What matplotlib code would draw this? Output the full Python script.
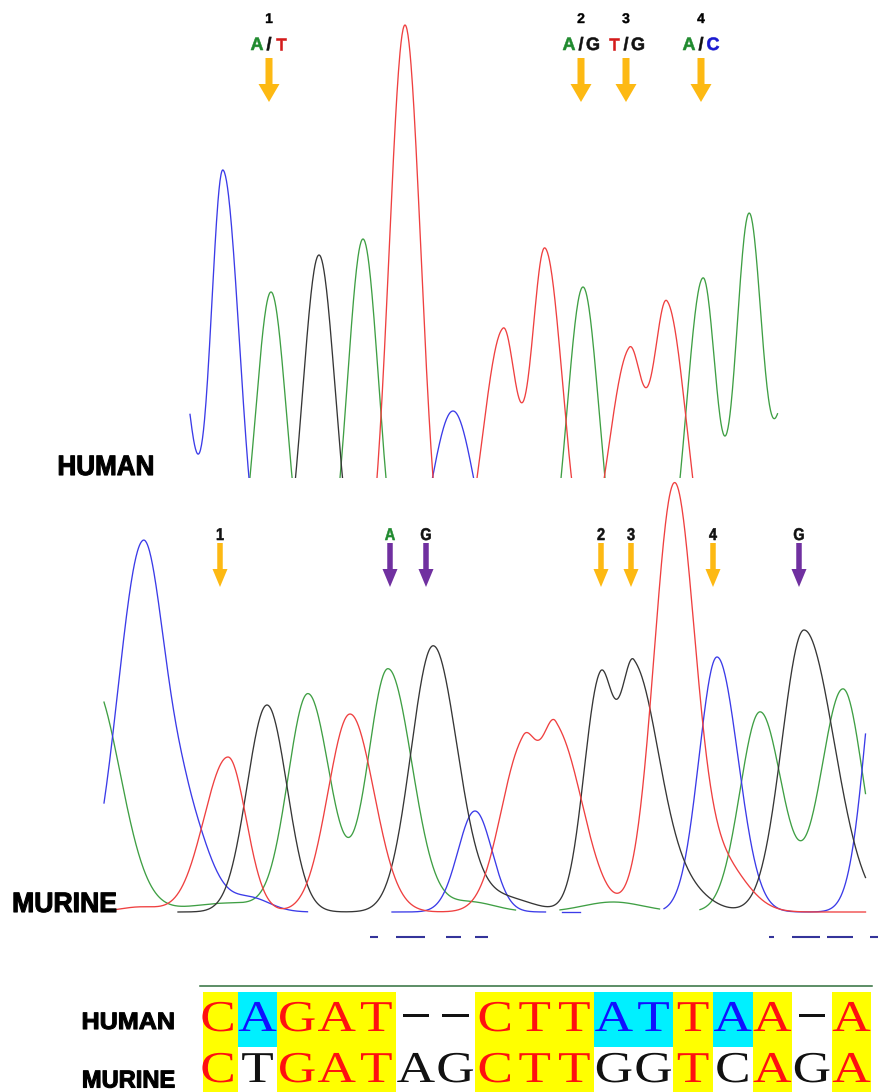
import numpy as np
import matplotlib
matplotlib.use("Agg")
import matplotlib.pyplot as plt
from matplotlib.patches import Rectangle
from matplotlib.patheffects import AbstractPathEffect
from matplotlib.transforms import Affine2D

# trace colours per base (ABI style)
base_colors = {"A": "#3f9f44", "C": "#3b3be8", "G": "#363636", "T": "#ef4040"}

# chromatogram peaks: (position px, height px, left width, right width)
human_A = [(271, 308, 15.5, 15.5), (363, 361, 15.6, 15.6), (583, 313, 16, 16),
           (703, 321, 16.5, 13.5), (749, 383, 13.5, 13.5), (790, 216, 14, 14)]
human_C = [(175, 273, 16, 16), (223, 427, 12, 16.4), (453, 189, 22, 22)]
human_G = [(319, 345, 16.3, 16.3)]
human_T = [(405, 575, 15.9, 15.9), (503, 268, 20.7, 14), (545, 349, 14, 17.9),
           (629, 245, 20.8, 14), (667, 293, 14, 19.4)]
human_span = (190, 778)
human_base = 600
human_floor = 478

murine_A = [(92, 230, 20, 28), (230, 9, 40, 40), (308, 217, 20, 22), (388, 243, 20, 24),
            (470, 10, 25, 25), (613, 10, 30, 30), (760, 200, 20, 22), (843, 223, 22, 20)]
murine_C = [(143, 368, 25, 22), (188, 85, 18, 22), (250, 14, 20, 20), (475, 101, 17, 17),
            (717, 255, 18, 21), (885, 320, 18, 18)]
murine_G = [(267, 207, 20, 20), (433, 265, 22, 24), (500, 15, 30, 30), (600, 230, 16, 13.5),
            (634, 238, 13.5, 24), (680, 25, 25, 25), (804, 282, 22, 30)]
murine_T = [(140, 5, 20, 20), (228, 155, 24, 18), (350, 198, 22, 24), (523, 165, 22, 14),
            (556, 180, 14, 26), (674, 420, 20, 20), (720, 50, 25, 25)]
murine_spans = {"A": [(104, 516), (560, 660), (700, 866)],
                "C": [(104, 308), (392, 546), (562, 580), (664, 866)],
                "G": [(178, 866)],
                "T": [(106, 866)]}
murine_base = 912

# stray dashes under the murine trace
dash_segments = [(370, 378), (396, 425), (446, 461), (475, 488),
                 (769, 774), (792, 820), (827, 853), (870, 878)]

# variant markers
human_marks = [269, 581, 626, 701]
human_nums = ["1", "2", "3", "4"]
human_calls = [("A", "T"), ("A", "G"), ("T", "G"), ("A", "C")]
murine_marks = [220, 390, 426, 601, 631, 713, 799]
murine_tags = ["1", "A", "G", "2", "3", "4", "G"]
murine_purple = [False, True, True, False, False, False, True]

call_colors = {"A": "#1f8a2e", "T": "#d41a1a", "G": "#111111", "C": "#1a1ad0"}

# alignment
human_seq = "CAGAT--CTTATTAA-A"
murine_seq = "CTGATAGCTTGGTCAGA"
human_shade = "YCYYYWWYYYCCYCYWY"
murine_shade = "YWYYYWWYYYWWYWYWY"
shade_bg = {"Y": "#ffff00", "C": "#00f0ff", "W": "#ffffff"}
shade_fg = {"Y": "#ff1010", "C": "#1010ff", "W": "#111111"}

GOLD = "#fdb913"
PURPLE = "#7030a0"


class Stretch(AbstractPathEffect):
    """widen / narrow glyphs around their centre, optionally thicken them"""
    def __init__(self, sx, bold=0.0):
        super().__init__()
        self.sx = sx
        self.bold = bold

    def draw_path(self, renderer, gc, tpath, affine, rgbFace=None):
        ext = affine.transform_path(tpath).get_extents()
        cx = (ext.x0 + ext.x1) / 2
        aff = affine + Affine2D().translate(-cx, 0).scale(self.sx, 1).translate(cx, 0)
        gc0 = renderer.new_gc()
        gc0.copy_properties(gc)
        gc0.set_linewidth(self.bold)
        renderer.draw_path(gc0, tpath, aff, rgbFace)
        gc0.restore()


def signal(x, peaks):
    s = np.zeros_like(x)
    for mu, h, sl, sr in peaks:
        sig = np.where(x < mu, sl, sr)
        s += h * np.exp(-0.5 * ((x - mu) / sig) ** 2)
    return s


def px(v):
    # pixel size -> points
    return v * 0.72


fig = plt.figure(figsize=(8.8, 10.92), dpi=100)
ax = fig.add_axes([0, 0, 1, 1])
ax.set_xlim(0, 880)
ax.set_ylim(1092, 0)
ax.axis("off")

# ---- human trace ----
clip_h = Rectangle((0, 0), 880, human_floor, transform=ax.transData)
xh = np.arange(human_span[0], human_span[1], 0.5)
for key, peaks in zip("ACGT", [human_A, human_C, human_G, human_T]):
    ln, = ax.plot(xh, human_base - signal(xh, peaks), color=base_colors[key], lw=0.95)
    ln.set_clip_path(clip_h)

# ---- murine trace ----
for key, peaks in zip("ACGT", [murine_A, murine_C, murine_G, murine_T]):
    for a, b in murine_spans[key]:
        xm = np.arange(a, b, 0.5)
        ax.plot(xm, murine_base - signal(xm, peaks), color=base_colors[key], lw=0.95)

for a, b in dash_segments:
    ax.plot([a, b], [937, 937], color="#34349a", lw=1.5, solid_capstyle="butt")

# ---- labels beside traces ----
ax.text(106, 475, "HUMAN", ha="center", va="baseline", fontsize=px(28), fontweight="bold",
        family="Liberation Sans", path_effects=[Stretch(0.93, 0.8)])
ax.text(64.5, 912, "MURINE", ha="center", va="baseline", fontsize=px(28), fontweight="bold",
        family="Liberation Sans", path_effects=[Stretch(0.95, 0.8)])

# ---- human markers ----
for x, n, (b1, b2) in zip(human_marks, human_nums, human_calls):
    ax.text(x, 23, n, ha="center", va="baseline", fontsize=px(14), fontweight="bold",
            family="Liberation Sans", path_effects=[Stretch(1.0, 0.3)])
    for dx, ch in [(-12, b1), (0, "/"), (12, b2)]:
        ax.text(x + dx, 50, ch, ha="center", va="baseline", fontsize=px(18), fontweight="bold",
                family="Liberation Sans", color=call_colors.get(ch, "#111111"),
                path_effects=[Stretch(1.0, 0.4)])
    ax.arrow(x, 58, 0, 44, width=7, head_width=21, head_length=18,
             length_includes_head=True, color=GOLD, lw=0)

# ---- murine markers ----
for x, t, purple in zip(murine_marks, murine_tags, murine_purple):
    col = call_colors["A"] if t == "A" else "#111111"
    ax.text(x, 540, t, ha="center", va="baseline", fontsize=px(17), fontweight="bold",
            family="Liberation Sans", color=col, path_effects=[Stretch(0.85, 0.4)])
    ax.arrow(x, 543, 0, 44, width=5.5, head_width=15, head_length=18,
             length_includes_head=True, color=PURPLE if purple else GOLD, lw=0)

# ---- alignment ----
col_w = 39.6
x_first = 198.1
ncol = len(human_seq)
centers = x_first + col_w * (np.arange(ncol) + 0.5)
clip_a = Rectangle((202.5, 900), 700, 200, transform=ax.transData)

ax.plot([200, 872], [986, 986], color="#2f6f3c", lw=1.1)

rows = [(human_seq, human_shade, 992, 1047, 1031), (murine_seq, murine_shade, 1047, 1092, 1082)]
for seq, shade, top, bot, base_y in rows:
    bars = ax.bar(centers, bot - top, width=col_w, bottom=top,
                  color=[shade_bg[s] for s in shade], linewidth=0)
    for b in bars:
        b.set_clip_path(clip_a)
    for cx, ch, s in zip(centers, seq, shade):
        if ch == "-":
            t = ax.text(cx, base_y - 5, ch, ha="center", va="baseline", fontsize=px(44),
                        family="Liberation Serif", color="#111111", path_effects=[Stretch(2.3)])
        else:
            t = ax.text(cx, base_y, ch, ha="center", va="baseline", fontsize=px(44),
                        family="Liberation Serif", color=shade_fg[s], path_effects=[Stretch(1.21)])
        t.set_clip_path(clip_a)

ax.text(128.5, 1029, "HUMAN", ha="center", va="baseline", fontsize=px(23.7), fontweight="bold",
        family="Liberation Sans", path_effects=[Stretch(1.06, 0.8)])
ax.text(128.5, 1087.5, "MURINE", ha="center", va="baseline", fontsize=px(24.4), fontweight="bold",
        family="Liberation Sans", path_effects=[Stretch(0.97, 0.8)])

fig.savefig("out.png", dpi=100)
